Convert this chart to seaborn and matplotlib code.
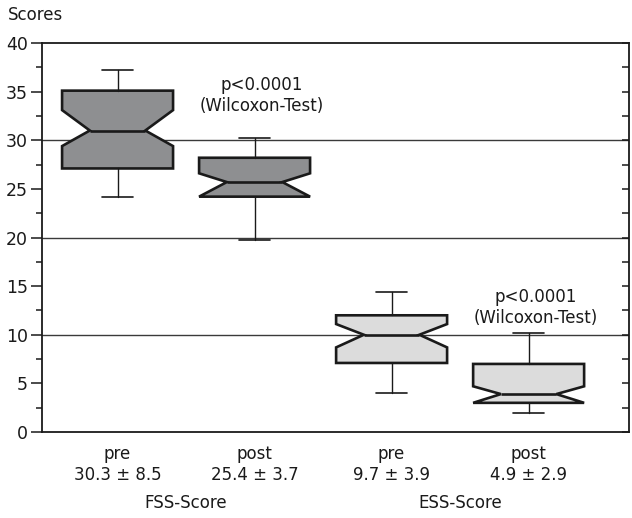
import matplotlib
matplotlib.use("Agg")
import matplotlib.pyplot as plt
import seaborn as sns
import numpy as np
from matplotlib.ticker import MultipleLocator

# ---- data ----
conditions = ["pre", "post", "pre", "post"]
mean_sd = ["30.3 \u00b1 8.5", "25.4 \u00b1 3.7", "9.7 \u00b1 3.9", "4.9 \u00b1 2.9"]
groups = ["FSS-Score", "ESS-Score"]
whisker_low = [24.2, 19.7, 4.0, 2.0]
q1 = [27.1, 24.2, 7.1, 3.0]
median = [31.0, 25.7, 10.0, 3.9]
q3 = [35.1, 28.2, 12.0, 7.0]
whisker_high = [37.2, 30.2, 14.4, 10.2]
notch_low = [29.4, 24.2, 8.7, 3.0]
notch_high = [33.1, 26.6, 11.1, 4.7]
box_colors = ["#8e8f91", "#8e8f91", "#dcdcdc", "#dcdcdc"]
p_text = "p<0.0001\n(Wilcoxon-Test)"

sns.set_theme(style="white")
plt.rcParams["font.family"] = ["DejaVu Sans"]

fig = plt.figure(figsize=(6.32, 5.18), dpi=100)
ax = fig.add_axes([0.0657, 0.166, 0.929, 0.751])

stats = []
for i in range(len(conditions)):
    stats.append(dict(whislo=whisker_low[i], q1=q1[i], med=median[i], q3=q3[i],
                      whishi=whisker_high[i], cilo=notch_low[i], cihi=notch_high[i],
                      fliers=[], label=conditions[i]))

positions = np.arange(len(conditions))
# horizontal reference lines
for yv in [10, 20, 30]:
    ax.axhline(yv, color="#3a3a3a", lw=1.0, zorder=0)

art = ax.bxp(stats, positions=positions, widths=0.81, capwidths=0.23,
             shownotches=True, patch_artist=True, showfliers=False,
             manage_ticks=False,
             boxprops=dict(linewidth=1.9, edgecolor="#1a1a1a"),
             medianprops=dict(linewidth=1.9, color="#1a1a1a"),
             whiskerprops=dict(linewidth=1.0, color="#1a1a1a"),
             capprops=dict(linewidth=1.2, color="#1a1a1a"))
for patch, c in zip(art["boxes"], box_colors):
    patch.set_facecolor(c)
    patch.set_zorder(2)

ax.set_xlim(-0.555, 3.73)
ax.set_ylim(0, 40)
ax.yaxis.set_major_locator(MultipleLocator(5))
ax.yaxis.set_minor_locator(MultipleLocator(2.5))
ax.tick_params(axis="y", which="major", direction="out", length=8, width=1.1,
               labelsize=12.5, pad=2, color="#1a1a1a", labelcolor="#1a1a1a", left=True)
ax.tick_params(axis="y", which="minor", direction="out", length=4, width=1.1,
               color="#1a1a1a", left=True)
ax.set_xticks(positions)
ax.set_xticklabels([f"{c}\n{m}" for c, m in zip(conditions, mean_sd)],
                   fontsize=12, linespacing=1.25, color="#1a1a1a")
ax.tick_params(axis="x", length=0, pad=9)

for s in ax.spines.values():
    s.set_visible(True)
    s.set_color("#1a1a1a")
    s.set_linewidth(1.3)

# right axis with inward ticks
ax2 = ax.twinx()
ax2.set_ylim(0, 40)
ax2.yaxis.set_major_locator(MultipleLocator(2.5))
ax2.tick_params(axis="y", direction="in", length=5, width=1.1, labelright=False,
                right=True, color="#1a1a1a")
for s in ax2.spines.values():
    s.set_visible(False)

# annotations
ax.text(1.05, 34.6, p_text, ha="center", va="center", fontsize=12,
        linespacing=1.15, color="#1a1a1a")
ax.text(3.05, 12.8, p_text, ha="center", va="center", fontsize=12,
        linespacing=1.15, color="#1a1a1a")

# group labels
ax.text(0.5, -7.3, groups[0], ha="center", va="center", fontsize=12, color="#1a1a1a")
ax.text(2.5, -7.3, groups[1], ha="center", va="center", fontsize=12, color="#1a1a1a")

fig.text(8 / 632, 1 - 15 / 518, "Scores", ha="left", va="center", fontsize=12,
         color="#1a1a1a")

fig.savefig("out.png", dpi=100)
